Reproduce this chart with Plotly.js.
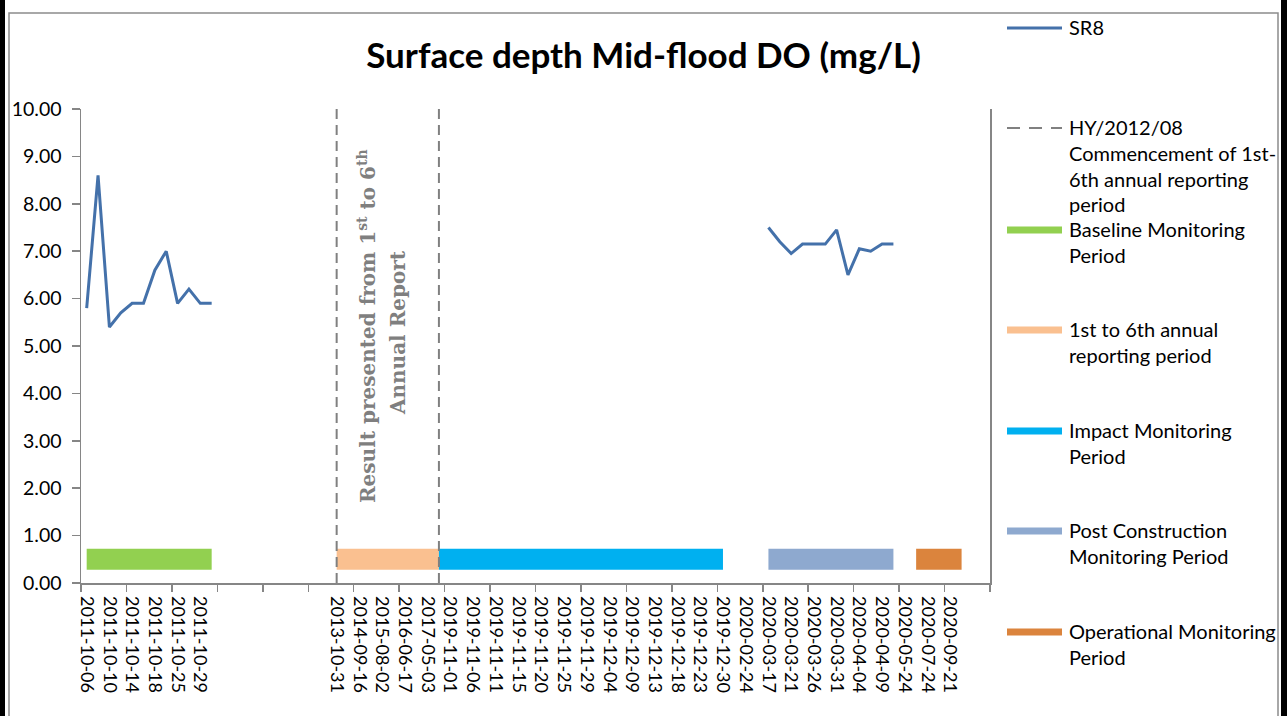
<!DOCTYPE html>
<html>
<head>
<meta charset="utf-8">
<script src="https://cdn.plot.ly/plotly-3.0.1.min.js"></script>
<style>
  html, body { margin: 0; padding: 0; background: #ffffff; }
  #chart { width: 1287px; height: 716px; }
</style>
</head>
<body>
<div id="chart"></div>
<script>
const _ = null;

// Category labels (every category of the Excel axis; '' = not labelled / empty row)
const categories = [
  '2011-10-06','', '2011-10-10','', '2011-10-14','', '2011-10-18','', '2011-10-25','',
  '2011-10-29','', '','', '','', '','', '','',
  '','', '2013-10-31','', '2014-09-16','', '2015-08-02','', '2016-06-17','',
  '2017-05-03','', '2019-11-01','', '2019-11-06','', '2019-11-11','', '2019-11-15','',
  '2019-11-20','', '2019-11-25','', '2019-11-29','', '2019-12-04','', '2019-12-09','',
  '2019-12-13','', '2019-12-18','', '2019-12-23','', '2019-12-30','', '2020-02-24','',
  '2020-03-17','', '2020-03-21','', '2020-03-26','', '2020-03-31','', '2020-04-04','',
  '2020-04-09','', '2020-05-24','', '2020-07-24','', '2020-09-21','', '',''
];

// SR8 surface depth mid-flood DO (mg/L)
const sr8 = [
  5.8, 8.6, 5.4, 5.7, 5.9, 5.9, 6.6, 7.0, 5.9, 6.2,
  5.9, 5.9, _, _, _, _, _, _, _, _,
  _, _, _, _, _, _, _, _, _, _,
  _, _, _, _, _, _, _, _, _, _,
  _, _, _, _, _, _, _, _, _, _,
  _, _, _, _, _, _, _, _, _, _,
  7.5, 7.2, 6.95, 7.15, 7.15, 7.15, 7.45, 6.5, 7.05, 7.0,
  7.15, 7.15, _, _, _, _, _, _, _, _
];

// HY/2012/08 commencement markers (vertical dashed lines)
const hyMarker = [
  _, _, _, _, _, _, _, _, _, _,
  _, _, _, _, _, _, _, _, _, _,
  _, _, 10, _, _, _, _, _, _, _,
  _, 10, _, _, _, _, _, _, _, _,
  _, _, _, _, _, _, _, _, _, _,
  _, _, _, _, _, _, _, _, _, _,
  _, _, _, _, _, _, _, _, _, _,
  _, _, _, _, _, _, _, _, _, _
];

// Period bands
const baseline = [
  0.5, 0.5, 0.5, 0.5, 0.5, 0.5, 0.5, 0.5, 0.5, 0.5,
  0.5, 0.5, _, _, _, _, _, _, _, _,
  _, _, _, _, _, _, _, _, _, _,
  _, _, _, _, _, _, _, _, _, _,
  _, _, _, _, _, _, _, _, _, _,
  _, _, _, _, _, _, _, _, _, _,
  _, _, _, _, _, _, _, _, _, _,
  _, _, _, _, _, _, _, _, _, _
];
const annualReporting = [
  _, _, _, _, _, _, _, _, _, _,
  _, _, _, _, _, _, _, _, _, _,
  _, _, 0.5, 0.5, 0.5, 0.5, 0.5, 0.5, 0.5, 0.5,
  0.5, 0.5, _, _, _, _, _, _, _, _,
  _, _, _, _, _, _, _, _, _, _,
  _, _, _, _, _, _, _, _, _, _,
  _, _, _, _, _, _, _, _, _, _,
  _, _, _, _, _, _, _, _, _, _
];
const impact = [
  _, _, _, _, _, _, _, _, _, _,
  _, _, _, _, _, _, _, _, _, _,
  _, _, _, _, _, _, _, _, _, _,
  _, 0.5, 0.5, 0.5, 0.5, 0.5, 0.5, 0.5, 0.5, 0.5,
  0.5, 0.5, 0.5, 0.5, 0.5, 0.5, 0.5, 0.5, 0.5, 0.5,
  0.5, 0.5, 0.5, 0.5, 0.5, 0.5, 0.5, _, _, _,
  _, _, _, _, _, _, _, _, _, _,
  _, _, _, _, _, _, _, _, _, _
];
const postConstruction = [
  _, _, _, _, _, _, _, _, _, _,
  _, _, _, _, _, _, _, _, _, _,
  _, _, _, _, _, _, _, _, _, _,
  _, _, _, _, _, _, _, _, _, _,
  _, _, _, _, _, _, _, _, _, _,
  _, _, _, _, _, _, _, _, _, _,
  0.5, 0.5, 0.5, 0.5, 0.5, 0.5, 0.5, 0.5, 0.5, 0.5,
  0.5, 0.5, _, _, _, _, _, _, _, _
];
const operational = [
  _, _, _, _, _, _, _, _, _, _,
  _, _, _, _, _, _, _, _, _, _,
  _, _, _, _, _, _, _, _, _, _,
  _, _, _, _, _, _, _, _, _, _,
  _, _, _, _, _, _, _, _, _, _,
  _, _, _, _, _, _, _, _, _, _,
  _, _, _, _, _, _, _, _, _, _,
  _, _, _, 0.5, 0.5, 0.5, 0.5, 0.5, _, _
];

// Y-axis ticks
const yTicks = [0, 1, 2, 3, 4, 5, 6, 7, 8, 9, 10];

// Legend entries
const legendLabels = [
  'SR8',
  'HY/2012/08<br>Commencement of 1st-<br>6th annual reporting<br>period',
  'Baseline Monitoring<br>Period',
  '1st to 6th annual<br>reporting period',
  'Impact Monitoring<br>Period',
  'Post Construction<br>Monitoring Period',
  'Operational Monitoring<br>Period'
];
const legendColors = ['#4471AA', '#808080', '#92D050', '#FAC090', '#00B0F0', '#8EA9CF', '#DB843D'];
const legendKinds  = ['line', 'dash', 'band', 'band', 'band', 'band', 'band'];

const annotationLines = ['Result presented from 1<sup>st</sup> to 6<sup>th</sup>', 'Annual Report'];
const chartTitle = 'Surface depth Mid-flood DO (mg/L)';

// ---------- build ----------
const xIdx = categories.map((c, i) => i);

// plot area in pixels
const PL = 81, PR = 990, PT = 109, PB = 583;
const W = 1287, H = 716;
const fx = px => (px - PL) / (PR - PL);
const fy = py => (PB - py) / (PB - PT);

const tickVals = [], tickText = [];
categories.forEach((c, i) => { if (c !== '') { tickVals.push(i); tickText.push(c); } });
const boundaryTicks = [];
for (let i = 0; i <= categories.length; i += 4) boundaryTicks.push(i - 0.5);

// vertical dashed lines from the marker series
const hyX = [], hyY = [];
hyMarker.forEach((v, i) => { if (v !== null) { hyX.push(i, i, null); hyY.push(0, v, null); } });

const bandTrace = (vals, color) => ({
  x: xIdx, y: vals, type: 'scatter', mode: 'lines',
  line: { color: color, width: 21 }, connectgaps: false,
  showlegend: false, hoverinfo: 'skip'
});

const traces = [
  bandTrace(baseline, legendColors[2]),
  bandTrace(annualReporting, legendColors[3]),
  bandTrace(impact, legendColors[4]),
  bandTrace(postConstruction, legendColors[5]),
  bandTrace(operational, legendColors[6]),
  { x: hyX, y: hyY, type: 'scatter', mode: 'lines',
    line: { color: legendColors[1], width: 2, dash: '10px,6px' }, showlegend: false, hoverinfo: 'skip' },
  { x: xIdx, y: sr8, type: 'scatter', mode: 'lines', name: 'SR8',
    line: { color: legendColors[0], width: 3 }, connectgaps: false, showlegend: false }
];

const shapes = [
  // outer chart frame
  { type: 'rect', xref: 'paper', yref: 'paper', x0: fx(9), x1: fx(1278), y0: fy(740), y1: fy(13),
    line: { color: '#8c8c8c', width: 1.5 }, fillcolor: 'rgba(0,0,0,0)' },
  { type: 'rect', xref: 'paper', yref: 'paper', x0: fx(-5), x1: fx(5), y0: fy(740), y1: fy(-10),
    line: { width: 0 }, fillcolor: '#000000' },
  { type: 'rect', xref: 'paper', yref: 'paper', x0: fx(1281), x1: fx(1295), y0: fy(740), y1: fy(-10),
    line: { width: 0 }, fillcolor: '#000000' }
];

// rotated note, two lines
const notePos = [[367, 326], [398, 333]];
const annotations = annotationLines.map((t, k) => ({
  xref: 'paper', yref: 'paper', x: fx(notePos[k][0]), y: fy(notePos[k][1]),
  xanchor: 'center', yanchor: 'middle',
  text: '<b>' + t + '</b>', textangle: -90, showarrow: false,
  font: { family: 'DejaVu Serif, serif', size: 20, color: '#7f7f7f' }
}));

// manual legend (positions as in the reference)
const legendFirstY = [27, 127, 229, 329, 430, 530, 631];
const lineGap = 25.8;
legendLabels.forEach((lab, k) => {
  const y0 = legendFirstY[k];
  const kind = legendKinds[k];
  const sym = { type: 'line', xref: 'paper', yref: 'paper', x0: fx(1007), x1: fx(1062), y0: fy(y0 + 1), y1: fy(y0 + 1),
    line: { color: legendColors[k], width: kind === 'band' ? 7 : (kind === 'line' ? 3 : 2) } };
  if (kind === 'dash') sym.line.dash = '13px,9px';
  shapes.push(sym);
  lab.split('<br>').forEach((t, j) => {
    annotations.push({ xref: 'paper', yref: 'paper', x: fx(1067), y: fy(y0 + j * lineGap),
      xanchor: 'left', yanchor: 'middle', text: t, showarrow: false,
      font: { family: 'Lato, sans-serif', size: 20, color: '#000000' } });
  });
});

const axisGray = '#868686';
const layout = {
  width: W, height: H,
  margin: { l: PL, r: W - PR, t: PT, b: H - PB, pad: 0 },
  paper_bgcolor: '#ffffff', plot_bgcolor: '#ffffff',
  showlegend: false,
  title: { text: '<b>' + chartTitle + '</b>', xref: 'container', x: 0.5, xanchor: 'center',
    yref: 'container', y: 1 - 56 / H, yanchor: 'middle',
    font: { family: 'Lato, sans-serif', size: 35, color: '#000000' } },
  xaxis: {
    type: 'linear', range: [-0.5, categories.length - 0.5], autorange: false,
    tickmode: 'array', tickvals: tickVals, ticktext: tickText, tickangle: 90,
    ticks: '', showgrid: false, zeroline: false,
    showline: true, linecolor: axisGray, linewidth: 1.5, mirror: false,
    ticklabelstandoff: 8,
    tickfont: { family: 'Lato, sans-serif', size: 18, color: '#000000' },
    minor: { tickmode: 'array', tickvals: boundaryTicks, ticks: 'outside', ticklen: 7,
      tickcolor: axisGray, tickwidth: 1.5, showgrid: false }
  },
  yaxis: {
    range: [0, 10], autorange: false, tickmode: 'array', tickvals: yTicks, tickformat: '.2f',
    ticks: 'outside', ticklen: 8, tickcolor: axisGray, tickwidth: 1.5,
    showgrid: false, zeroline: false, showline: true, linecolor: axisGray, linewidth: 1.5,
    mirror: true, ticklabelstandoff: 6,
    tickfont: { family: 'Lato, sans-serif', size: 19.5, color: '#000000' }
  },
  shapes: shapes,
  annotations: annotations
};

Plotly.newPlot('chart', traces, layout, { displayModeBar: false, staticPlot: true });
</script>
</body>
</html>
